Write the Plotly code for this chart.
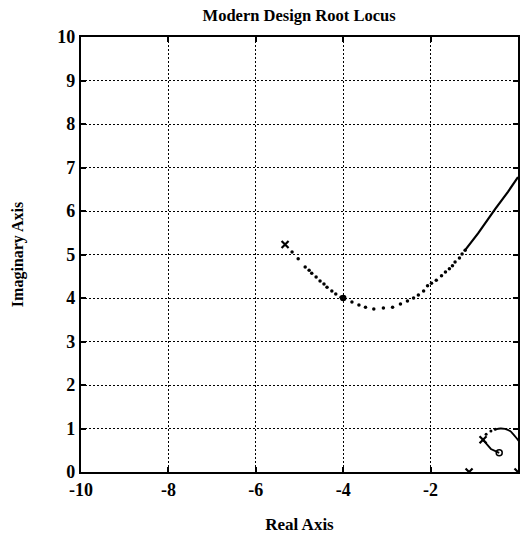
import plotly.graph_objects as go

# Upper branch: dotted path from the complex pole, then solid near the jw axis
branch_dot_re = [-5.17, -5.03, -4.87, -4.78, -4.72, -4.62, -4.53, -4.44, -4.37, -4.26,
                 -4.17, -4.05, -3.80, -3.64, -3.49, -3.30, -3.08, -2.87, -2.69, -2.53,
                 -2.39, -2.28, -2.16, -2.07, -1.98, -1.87, -1.75, -1.66, -1.57, -1.50,
                 -1.44, -1.34, -1.28, -1.21]
branch_dot_im = [5.06, 4.90, 4.71, 4.64, 4.57, 4.48, 4.39, 4.32, 4.25, 4.16,
                 4.09, 4.02, 3.91, 3.84, 3.79, 3.75, 3.77, 3.79, 3.86, 3.93,
                 4.00, 4.07, 4.16, 4.28, 4.34, 4.41, 4.51, 4.60, 4.67, 4.74,
                 4.83, 4.92, 5.01, 5.10]
branch_solid_re = [-1.21, -0.91, -0.52, -0.23, 0.0]
branch_solid_im = [5.10, 5.49, 6.05, 6.44, 6.78]

# Small loop near the origin
loop_dot_re = [-0.80, -0.73, -0.62, -0.52]
loop_dot_im = [0.74, 0.87, 0.94, 0.98]
loop_solid_re = [-0.52, -0.40, -0.30, -0.18, -0.11, -0.05, 0.02]
loop_solid_im = [0.98, 1.00, 0.99, 0.94, 0.87, 0.80, 0.71]
to_zero_re = [-0.80, -0.62, -0.43]
to_zero_im = [0.74, 0.53, 0.44]

# Poles, zero and the chosen closed-loop design point
pole_re = [-5.33, -0.80, -1.12, 0.0]
pole_im = [5.23, 0.74, 0.0, 0.0]
zero_re = [-0.43]
zero_im = [0.44]
design_re = [-4.0]
design_im = [4.0]

x_ticks = [-10, -8, -6, -4, -2, 0]
y_ticks = list(range(0, 11))

fig = go.Figure()
fig.add_trace(go.Scatter(x=branch_dot_re, y=branch_dot_im, mode="markers",
                         marker=dict(size=3.5, color="black")))
fig.add_trace(go.Scatter(x=branch_solid_re, y=branch_solid_im, mode="lines",
                         line=dict(color="black", width=2.2)))
fig.add_trace(go.Scatter(x=loop_dot_re, y=loop_dot_im, mode="markers",
                         marker=dict(size=3, color="black")))
fig.add_trace(go.Scatter(x=loop_solid_re, y=loop_solid_im, mode="lines",
                         line=dict(color="black", width=1.8, shape="spline")))
fig.add_trace(go.Scatter(x=to_zero_re, y=to_zero_im, mode="lines",
                         line=dict(color="black", width=1.8)))
fig.add_trace(go.Scatter(x=pole_re, y=pole_im, mode="markers",
                         marker=dict(symbol="x-thin", size=7, color="black",
                                     line=dict(color="black", width=2.2))))
fig.add_trace(go.Scatter(x=zero_re, y=zero_im, mode="markers",
                         marker=dict(symbol="circle-open", size=6, color="black",
                                     line=dict(color="black", width=1.5))))
fig.add_trace(go.Scatter(x=design_re, y=design_im, mode="markers",
                         marker=dict(size=6.5, color="black")))

serif = "Liberation Serif"
common_axis = dict(
    showgrid=True, gridcolor="black", gridwidth=1, griddash="2px,2px",
    zeroline=False, showline=True, linecolor="black", linewidth=2.2,
    mirror="ticks", ticks="inside", ticklen=5, tickcolor="black", tickwidth=1.5,
    tickfont=dict(family=serif, size=18, color="black", weight="bold"),
)
fig.update_layout(
    width=522, height=534,
    margin=dict(l=81, r=2, t=37, b=62),
    paper_bgcolor="white", plot_bgcolor="white",
    showlegend=False,
    title=dict(text="<b>Modern Design Root Locus</b>", x=0.573, xanchor="center",
               y=0.972, yanchor="middle",
               font=dict(family=serif, size=16.5, color="black")),
    xaxis=dict(range=[-10, 0], tickvals=x_ticks, ticktext=[str(v) for v in x_ticks],
               title=dict(text="<b>Real Axis</b>", standoff=20,
                          font=dict(family=serif, size=17, color="black")),
               **common_axis),
    yaxis=dict(range=[0, 10], tickvals=y_ticks, ticktext=[str(v) for v in y_ticks],
               title=dict(text="<b>Imaginary Axis</b>", standoff=30,
                          font=dict(family=serif, size=16, color="black")),
               **common_axis),
)

fig.write_html("out.html")
